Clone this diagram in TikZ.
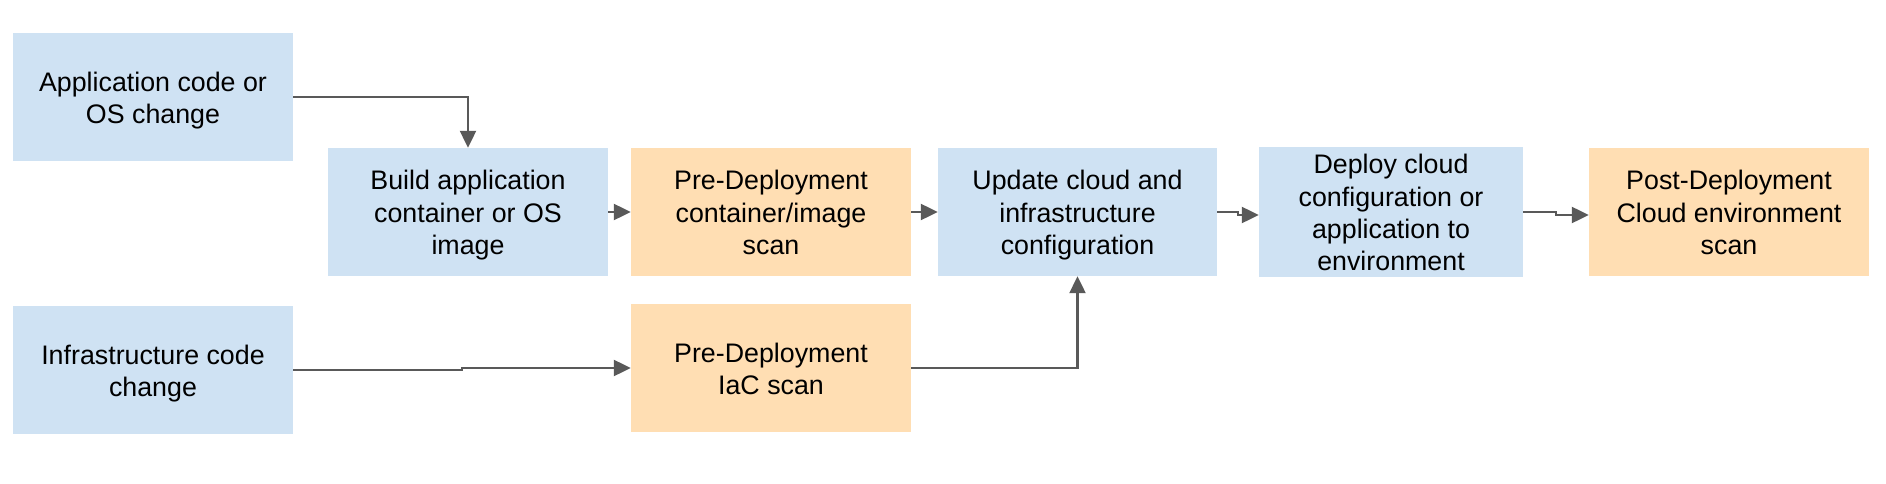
\documentclass[tikz,border=0pt]{standalone}
\usepackage{fontspec}
\setmainfont{Liberation Sans}
\usetikzlibrary{arrows.meta,positioning}
\definecolor{boxblue}{HTML}{CFE2F3}
\definecolor{boxorange}{HTML}{FFDEB3}
\definecolor{arrowgray}{HTML}{595959}
\newcommand{\sv}{\rule[-6pt]{0pt}{32.3pt}}
\begin{document}
\begin{tikzpicture}[x=1pt,y=-1pt,
  box/.style={fill=#1, draw=none, inner sep=0pt, minimum height=128pt,
    align=center, font=\fontsize{26.8}{32.3}\selectfont},
  bluebox/.style={box=boxblue, minimum width=280pt},
  orangebox/.style={box=boxorange, minimum width=280pt},
  conn/.style={draw=arrowgray, line width=2.2pt, -{Triangle[length=17pt,width=16pt]}}
]
\useasboundingbox (0,0) rectangle (1886,484);
\fill[white] (0,0) rectangle (1886,484);

\node[bluebox] (A) at (153,97) {\sv Application code or\\OS change\sv};
\node[bluebox] (B) at (468,212) {\sv Build application\\container or OS\\image\sv};
\node[orangebox] (C) at (771,212) {\sv Pre-Deployment\\container/image\\scan\sv};
\node[bluebox, minimum width=279pt] (D) at (1077.5,212) {\sv Update cloud and\\infrastructure\\configuration\sv};
\node[bluebox, minimum width=264pt] (E) at (1391,212) {\sv Deploy cloud\\configuration or\\application to\\environment\sv};
\node[orangebox] (F) at (1729,212) {\sv Post-Deployment\\Cloud environment\\scan\sv};
\node[bluebox] (G) at (153,370) {\sv Infrastructure code\\change\sv};
\node[orangebox] (H) at (771,368) {\sv Pre-Deployment\\IaC scan\sv};

\draw[conn] (A.east) -| (B.north);
\draw[conn] (B.east) -- (C.west);
\draw[conn] (C.east) -- (D.west);
\draw[conn] (G.east) -- ++(169,0) |- (H.west);
\draw[conn] (H.east) -| (D.south);
\draw[conn] (D.east) -- ++(21,0) |- ([yshift=-3pt]E.west);
\draw[conn] (E.east) -- ++(33,0) |- ([yshift=-3pt]F.west);
\end{tikzpicture}
\end{document}
